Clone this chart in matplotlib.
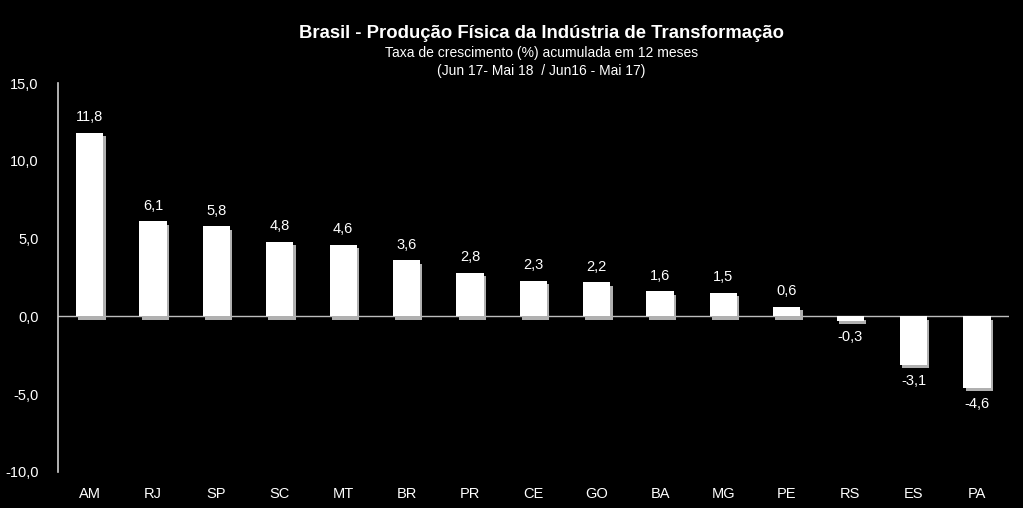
import matplotlib
matplotlib.use("Agg")
import matplotlib.pyplot as plt

plt.rcParams["font.family"] = ["Liberation Sans", "DejaVu Sans"]

# taxa de crescimento acumulada em 12 meses (%)
estados = ["AM", "RJ", "SP", "SC", "MT", "BR", "PR", "CE", "GO", "BA", "MG", "PE", "RS", "ES", "PA"]
taxa = [11.8, 6.1, 5.8, 4.8, 4.6, 3.6, 2.8, 2.3, 2.2, 1.6, 1.5, 0.6, -0.3, -3.1, -4.6]
yticks = [-10, -5, 0, 5, 10, 15]

fig = plt.figure(figsize=(10.23, 5.08), dpi=100, facecolor="black")
ax = fig.add_axes([0.0567, 0.0709, 0.9293, 0.7657], facecolor="black")

x = list(range(len(estados)))
w = 0.43
# sombra cinza fina à direita/embaixo
ax.bar([i + 0.035 for i in x], taxa, width=w, bottom=-0.22, color="#b0b0b0", zorder=2)
ax.bar(x, taxa, width=w, color="white", zorder=3)
ax.axhline(0, color="#bdbdbd", lw=1.0, zorder=1)

for i, v in zip(x, taxa):
    lab = f"{v:.1f}".replace(".", ",")
    if v >= 0:
        ax.text(i, v + 0.55, lab, ha="center", va="bottom", color="white", fontsize=10.5)
    else:
        ax.text(i, v - 0.6, lab, ha="center", va="top", color="white", fontsize=10.5)

ax.set_xlim(-0.5, len(estados) - 0.5)
ax.set_ylim(-10, 15)
ax.set_yticks(yticks)
ax.set_yticklabels([f"{t:.1f}".replace(".", ",") for t in yticks], color="white", fontsize=10.5)
ax.set_xticks(x)
ax.set_xticklabels(estados, color="white", fontsize=10.5)
ax.tick_params(axis="both", length=0)
ax.tick_params(axis="y", pad=14)
ax.tick_params(axis="x", pad=11)
for s in ["top", "right", "bottom"]:
    ax.spines[s].set_visible(False)
ax.spines["left"].set_color("#d0d0d0")
ax.spines["left"].set_linewidth(1.2)

fig.text(0.529, 0.934, "Brasil - Produção Física da Indústria de Transformação",
         ha="center", va="center", color="white", fontsize=13.3, fontweight="bold")
fig.text(0.529, 0.896, "Taxa de crescimento (%) acumulada em 12 meses",
         ha="center", va="center", color="white", fontsize=10)
fig.text(0.529, 0.860, "(Jun 17- Mai 18  / Jun16 - Mai 17)",
         ha="center", va="center", color="white", fontsize=10)

fig.savefig("out.png", dpi=100, facecolor="black")
